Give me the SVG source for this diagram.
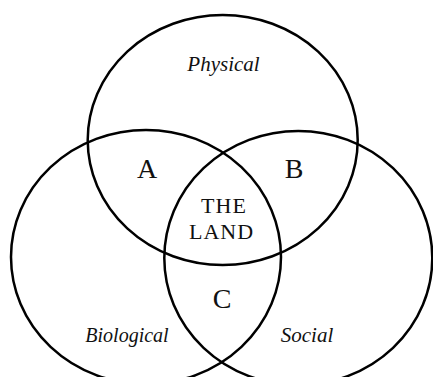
<svg xmlns="http://www.w3.org/2000/svg" width="433" height="377" viewBox="0 0 433 377">
<style>
.ring{fill:none;stroke:#000;stroke-width:2.5}
text{font-family:'Liberation Serif','Times New Roman',serif;fill:#111;text-anchor:middle}
.it{font-style:italic}
</style>
<rect width="433" height="377" fill="#fff"/>
<g id="physical">
<ellipse class="ring" cx="222.7" cy="140" rx="135" ry="125"/>
<text class="it" x="223.5" y="70.5" font-size="21">Physical</text>
</g>
<g id="biological">
<ellipse class="ring" cx="146" cy="257" rx="135" ry="127"/>
<text class="it" x="127" y="342" font-size="20">Biological</text>
</g>
<g id="social">
<ellipse class="ring" cx="298.3" cy="258" rx="134" ry="127"/>
<text class="it" x="307" y="342" font-size="21">Social</text>
</g>
<g id="labels">
<text x="147" y="178" font-size="28">A</text>
<text x="294" y="178" font-size="28">B</text>
<text x="222" y="308" font-size="28">C</text>
<text x="224" y="213" font-size="22" letter-spacing="1">THE</text>
<text x="221.5" y="239" font-size="22" letter-spacing="1">LAND</text>
</g>
<g id="connectors"/>
</svg>
